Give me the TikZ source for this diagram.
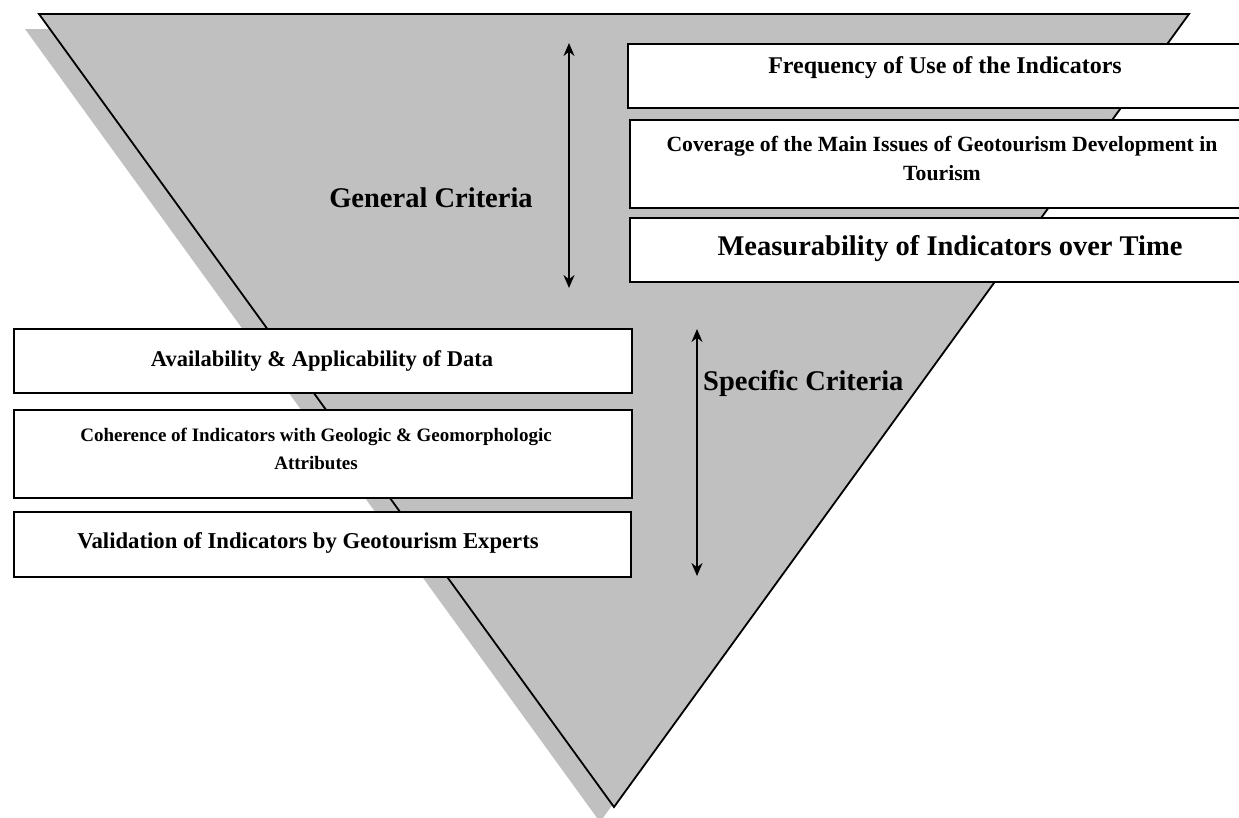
\documentclass[tikz,border=0pt]{standalone}
\usepackage{fontspec}
\setmainfont{Liberation Serif}
\usetikzlibrary{arrows.meta}
\definecolor{funnelgray}{HTML}{C0C0C0}

\tikzset{
  critbox/.style={draw, fill=white, line width=1.8pt, rectangle, inner sep=0pt},
  crittext/.style={align=center, font=\bfseries, inner sep=0pt},
}

\begin{document}
\begin{tikzpicture}[x=1pt, y=-1pt, >={Stealth[length=13pt, width=11pt]}]
  \useasboundingbox (0,0) rectangle (1239,817);
  \clip (0,0) rectangle (1239,817);

  % Shadow and funnel
  \fill[funnelgray] (25,29) -- (1175,29) -- (600,822) -- cycle;
  \draw[line width=1.8pt, fill=funnelgray] (39,14) -- (1189,14) -- (614,807) -- cycle;

  % General criteria (right)
  \node[critbox, minimum width=634pt, minimum height=64pt] (freqbox) at (945,76) {};
  \node[crittext, font=\bfseries\fontsize{24}{30}\selectfont] (freq) at (945,68)
    {Frequency of Use of the Indicators};
  \node[critbox, minimum width=632pt, minimum height=88pt] (covbox) at (946,164) {};
  \node[crittext, font=\bfseries\fontsize{21.7}{29}\selectfont] (cov) at (942,158)
    {Coverage of the Main Issues of Geotourism Development in\\Tourism};
  \node[critbox, minimum width=632pt, minimum height=64pt] (measbox) at (946,250) {};
  \node[crittext, font=\bfseries\fontsize{28.5}{34}\selectfont] (meas) at (950,249)
    {Measurability of Indicators over Time};

  % Specific criteria (left)
  \node[critbox, minimum width=618pt, minimum height=64pt] (availbox) at (323,361) {};
  \node[crittext, font=\bfseries\fontsize{22.5}{28}\selectfont] (avail) at (322,361)
    {Availability \& Applicability of Data};
  \node[critbox, minimum width=618pt, minimum height=88pt] (cohbox) at (323,454) {};
  \node[crittext, font=\bfseries\fontsize{19}{28}\selectfont] (coh) at (316,449)
    {Coherence of Indicators with Geologic \& Geomorphologic\\Attributes};
  \node[critbox, minimum width=617pt, minimum height=65pt] (validbox) at (322.5,544.5) {};
  \node[crittext, font=\bfseries\fontsize{22.7}{28}\selectfont] (valid) at (308,543)
    {Validation of Indicators by Geotourism Experts};

  % Range arrows
  \coordinate (gentop) at (569,43);
  \coordinate (genbot) at (569,288);
  \coordinate (spectop) at (697,329);
  \coordinate (specbot) at (697,576);
  \draw[<->, line width=1.8pt] (gentop) -- (genbot);
  \draw[<->, line width=1.8pt] (spectop) -- (specbot);

  \node[crittext, font=\bfseries\fontsize{28.5}{34}\selectfont] (general) at (431,198) {General Criteria};
  \node[crittext, font=\bfseries\fontsize{28.5}{34}\selectfont, anchor=west] (specific) at (703,383) {Specific Criteria};
\end{tikzpicture}
\end{document}
